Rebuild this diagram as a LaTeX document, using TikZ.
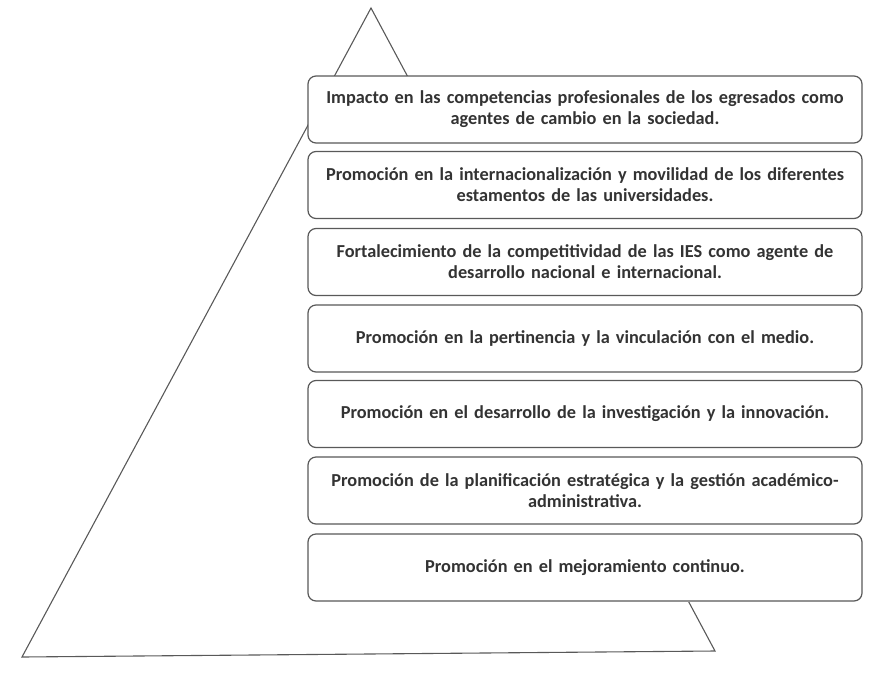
\documentclass[tikz,border=0pt]{standalone}
\usepackage{fontspec}
\setmainfont{Carlito}
\newfontfamily\boxfont{Carlito}[WordSpace=0.3]
\begin{document}
\begin{tikzpicture}[x=1pt,y=-1pt,
  level/.style={draw=black!65,line width=1.2pt,rounded corners=8pt,fill=white,
    minimum width=554pt,minimum height=67pt,align=center,text width=552pt,
    text=black!80,font=\boxfont\bfseries\fontsize{18.3}{21}\selectfont,inner sep=0pt},
  tri/.style={draw=black!65,line width=1.1pt,line join=miter}]
\useasboundingbox (0,0) rectangle (875,683);
\coordinate (apex) at (371,8);
\coordinate (bl) at (22,657);
\coordinate (br) at (715,651);
\draw[tri] (apex) -- (bl) -- (br) -- cycle;
\fill[white] (308,76) rectangle (862,602);
\node[level] (l1) at (585,109.5) {Impacto en las competencias profesionales de los egresados como\\agentes de cambio en la sociedad.};
\node[level] (l2) at (585,185) {Promoción en la internacionalización y movilidad de los diferentes\\estamentos de las universidades.};
\node[level] (l3) at (585,262) {Fortalecimiento de la competitividad de las IES como agente de\\desarrollo nacional e internacional.};
\node[level] (l4) at (585,338.5) {Promoción en la pertinencia y la vinculación con el medio.};
\node[level] (l5) at (585,414) {Promoción en el desarrollo de la investigación y la innovación.};
\node[level] (l6) at (585,490.5) {Promoción de la planificación estratégica y la gestión académico-\\administrativa.};
\node[level] (l7) at (585,567.5) {Promoción en el mejoramiento continuo.};
\end{tikzpicture}
\end{document}
